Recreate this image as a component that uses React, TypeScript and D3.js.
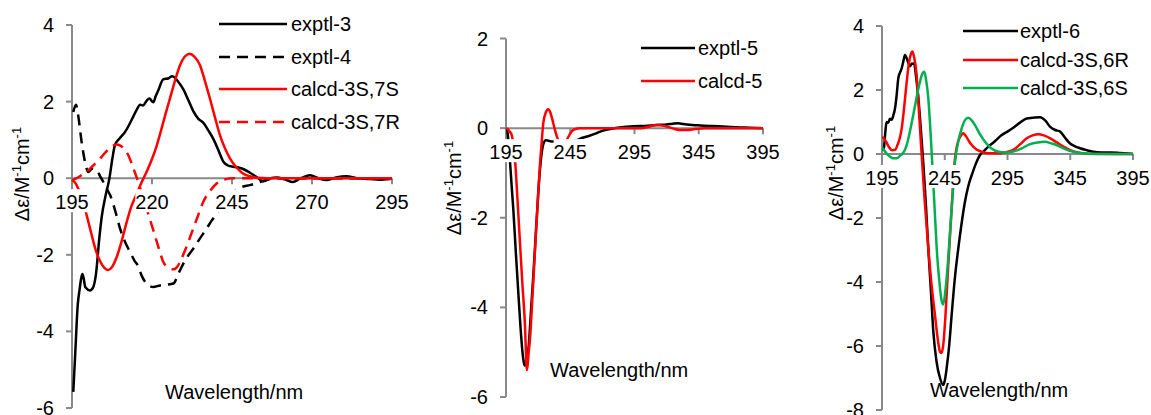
import React from "react";
import * as d3 from "d3";

// ---- data (wavelength nm, delta epsilon) ----
const exptl3 = [
  [195.4, -5.58], [196, -4.6], [196.8, -3.3], [197.3, -2.95], [198.3, -2.5], [199.2, -2.85],
  [200.6, -2.93], [201.6, -2.85], [202.5, -2.5], [203.5, -1.6], [204.3, -1.0], [205.5, -0.45],
  [206.7, 0], [207.6, 0.5], [208.4, 0.86], [210, 1.05], [211.6, 1.21], [213.5, 1.5], [215, 1.75],
  [216.3, 1.92], [217.2, 1.9], [218.3, 2.02], [219.2, 2.08], [220.4, 1.98], [221.2, 2.15],
  [222, 2.3], [223.5, 2.58], [225.2, 2.61], [226.3, 2.66], [227.2, 2.62], [228.2, 2.52],
  [229.8, 2.32], [231.3, 2.05], [232.9, 1.75], [234.5, 1.55], [236, 1.45], [237.6, 1.25],
  [239.2, 1.02], [240.8, 0.72], [242.3, 0.43], [243.8, 0.33], [245.4, 0.3], [247, 0.28],
  [248.5, 0.24], [250.5, 0.15], [252.7, 0.03], [254.8, -0.08], [257, 0], [259, 0.02],
  [261.5, -0.03], [264, -0.1], [266.5, 0], [269.4, 0.08], [272, 0], [274.6, -0.05],
  [277.5, 0.02], [280.8, 0.05], [284, 0], [288, -0.02], [291, -0.04], [294.5, -0.02],
];
const exptl4 = [
  [195.4, 1.73], [196.25, 1.92], [197, 1.6], [198, 0.95], [199, 0.45], [200.1, 0.16],
  [201.3, 0.25], [202.7, 0.21], [203.8, 0.05], [204.8, -0.1], [206, -0.3], [206.9, -0.44],
  [208.5, -0.85], [210, -1.31], [211.5, -1.65], [213.1, -1.92], [214.5, -2.15], [215.7, -2.3],
  [216.8, -2.55], [217.8, -2.7], [219, -2.8], [220.4, -2.84], [222.5, -2.8], [224.5, -2.78],
  [226.7, -2.75], [228.2, -2.5], [229.8, -2.23], [231.3, -2.02], [232.9, -1.84], [235, -1.57],
  [237.1, -1.31], [238.7, -1.1], [240.2, -0.92], [242.3, -0.65], [244.4, -0.44], [246.2, -0.3],
  [248, -0.23], [250.6, -0.18], [253.8, -0.1], [256, -0.04], [258, 0], [295, 0],
];
const calcd3S7S = [
  [195, -0.05], [196, -0.12], [197, -0.28], [198, -0.5], [199, -0.78], [200, -1.1],
  [201.2, -1.5], [202.5, -1.9], [204, -2.2], [205.2, -2.35], [206.3, -2.4], [207.5, -2.32],
  [209, -2.05], [210.5, -1.65], [212.1, -1.14], [213.5, -0.75], [215, -0.45], [216.8, -0.1],
  [218.5, 0.2], [220, 0.5], [221.5, 0.86], [223, 1.3], [224.3, 1.7], [225.6, 2.08],
  [227.2, 2.55], [228.75, 2.95], [230.2, 3.17], [231.7, 3.25], [233.3, 3.17], [235, 2.95],
  [236.5, 2.55], [238.1, 2.08], [239.7, 1.58], [241.25, 1.12], [242.8, 0.78], [244.4, 0.51],
  [246.4, 0.28], [248.5, 0.12], [250.5, 0.05], [253, 0.01], [256, 0], [295, 0],
];
const calcd3S7R = [
  [195, -0.05], [196.5, 0], [198, 0.08], [199.6, 0.17], [201.5, 0.32], [203.75, 0.51],
  [205.5, 0.68], [207.3, 0.82], [209, 0.88], [210.5, 0.83], [211.7, 0.72], [212.6, 0.6],
  [214, 0.3], [215.7, -0.1], [217, -0.45], [218.3, -0.79], [219.6, -1.14], [220.9, -1.49],
  [222.2, -1.85], [223.5, -2.18], [225, -2.33], [226.7, -2.38], [228, -2.3], [228.75, -2.18],
  [230.5, -1.85], [232.9, -1.31], [234.5, -0.95], [236, -0.62], [238, -0.35], [240.2, -0.14],
  [242.5, -0.04], [245, 0], [295, 0],
];

const exptl5 = [
  [195.8, 0], [196.8, -0.26], [198, -0.7], [199.3, -1.25], [200.7, -1.82], [202.6, -2.75],
  [204.6, -3.68], [206.3, -4.45], [208, -5.05], [209.2, -5.27], [209.8, -5.3], [210.8, -5.2],
  [212.4, -4.95], [214.3, -4.15], [216.2, -3.31], [218.2, -2.35], [220.1, -1.45], [222, -0.75],
  [224, -0.36], [226, -0.27], [228, -0.28], [231, -0.3], [235, -0.3], [240, -0.3], [245, -0.3],
  [250, -0.27], [253.9, -0.22], [260, -0.17], [265.6, -0.11], [270, -0.06], [276, -0.02],
  [285, 0.02], [294, 0.04], [303, 0.05], [312, 0.07], [320, 0.08], [325, 0.1], [329, 0.11],
  [333, 0.09], [340, 0.07], [346, 0.06], [353, 0.05], [360, 0.04], [367, 0.03], [374, 0.02],
  [385, 0.01], [395, 0],
];
const calcd5 = [
  [195, 0], [196.5, -0.03], [198, -0.08], [199.4, -0.15], [200.7, -0.35], [202, -0.7],
  [204, -1.62], [205.9, -2.57], [207.8, -3.5], [209.8, -4.43], [210.5, -5.0], [211.1, -5.4],
  [211.8, -5.3], [212.5, -5.05], [213.7, -4.7], [215.6, -3.75], [217.6, -2.72], [219.5, -1.75],
  [221.5, -0.78], [222.8, -0.3], [224, 0.11], [226, 0.35], [227.9, 0.42], [229.5, 0.35],
  [231, 0.2], [233.1, -0.04], [235.7, -0.26], [239, -0.32], [242.2, -0.26], [245, -0.12],
  [247.4, -0.04], [252, 0], [300, 0], [306, 0.03], [312, 0.07], [318, 0.05], [324, 0],
  [330, -0.04], [336, -0.04], [342, -0.02], [350, 0], [395, 0],
];

const exptl6 = [
  [196.2, 0.1], [196.8, 0.28], [197.8, 0.75], [198.7, 1.0], [200, 0.98], [201.3, 1.1],
  [202.7, 1.07], [204, 1.2], [205.4, 1.43], [206.7, 1.85], [208, 2.37], [209.4, 2.55],
  [210.7, 2.68], [212, 2.9], [213.3, 3.09], [214.6, 3.0], [216, 2.85], [217.3, 2.74],
  [218.7, 2.82], [220.5, 2.83], [222.2, 2.4], [224, 1.74], [226, 0.75], [228, -0.34],
  [230, -1.6], [231.9, -2.95], [234, -4.3], [235.9, -5.55], [238.5, -6.5], [241.2, -7.0],
  [243.8, -7.22], [245.2, -7.05], [246.5, -6.7], [248.5, -6.0], [250.5, -5.03], [253, -3.9],
  [255.8, -2.95], [258.5, -2.15], [261.1, -1.49], [263.8, -1.0], [266.5, -0.66], [269.8, -0.3],
  [273.1, -0.03], [276.4, 0.1], [279.7, 0.23], [285, 0.4], [290.4, 0.59], [295, 0.7],
  [299.6, 0.82], [305, 0.98], [310.3, 1.11], [315, 1.13], [321, 1.15], [325, 1.05],
  [329, 0.85], [333, 0.75], [337, 0.7], [341, 0.5], [344.8, 0.33], [348.8, 0.24],
  [352.8, 0.18], [358, 0.12], [363.4, 0.07], [370, 0.05], [377, 0.05], [385, 0.03], [395, 0],
];
const calcd3S6R = [
  [195.3, 0.54], [198, 0.4], [200.5, 0.22], [203, 0.12], [205.4, 0.13], [207.5, 0.3],
  [209.2, 0.5], [210.7, 0.8], [212.5, 1.4], [214.7, 2.26], [216.5, 2.85], [218, 3.12],
  [219.2, 3.2], [220.5, 3.05], [222.6, 2.47], [224.5, 1.3], [226.6, -0.03], [229, -1.45],
  [231.9, -2.95], [234.5, -4.1], [237.2, -5.03], [239.5, -5.8], [241.2, -6.18], [242.3, -6.22],
  [243.8, -5.97], [245.5, -5.1], [247.8, -3.47], [250.5, -1.7], [253.2, -0.13], [255, 0.3],
  [257.5, 0.55], [259.8, 0.65], [262, 0.55], [264.3, 0.4], [266.5, 0.28], [270, 0.15],
  [274.4, 0.07], [280, 0.02], [289, 0.02], [295, 0.07], [299.6, 0.13], [305, 0.3],
  [310.3, 0.49], [315, 0.58], [319.5, 0.62], [324, 0.58], [329, 0.49], [334, 0.37],
  [339.6, 0.23], [345, 0.12], [351, 0.05], [360, 0.01], [395, 0],
];
const calcd3S6S = [
  [195.3, 0.2], [197, 0.1], [199, 0], [201, -0.07], [203.5, -0.13], [206.7, -0.13],
  [209.5, -0.05], [211.5, 0.02], [213.3, 0.13], [215.5, 0.4], [217.5, 0.75], [219.9, 1.22],
  [222, 1.65], [224, 2.05], [225.3, 2.26], [227, 2.5], [228.7, 2.57], [230.2, 2.3],
  [231.9, 1.74], [233.5, 0.8], [235.1, -0.34], [236.8, -1.6], [238.6, -2.95], [240.5, -3.9],
  [242.6, -4.6], [243.8, -4.7], [245.7, -4.2], [247.5, -3.4], [249.2, -2.43], [251.2, -1.3],
  [253.2, -0.24], [255.8, 0.4], [258.5, 0.8], [261, 1.05], [263.8, 1.13], [266.5, 1.05],
  [269.1, 0.9], [273, 0.62], [277.1, 0.38], [282, 0.18], [287.7, 0.07], [294, 0.05],
  [299.6, 0.08], [306, 0.17], [313, 0.31], [319, 0.36], [325, 0.38], [330, 0.33], [334, 0.28],
  [340, 0.17], [347.5, 0.07], [355, 0.02], [365, 0], [395, 0],
];

const xTicks1 = [195, 220, 245, 270, 295];
const yTicks1 = [-6, -4, -2, 0, 2, 4];
const xTicks2 = [195, 245, 295, 345, 395];
const yTicks2 = [-6, -4, -2, 0, 2];
const xTicks3 = [195, 245, 295, 345, 395];
const yTicks3 = [-8, -6, -4, -2, 0, 2, 4];

const RED = "#ff0000";
const GREEN = "#00b050";
const AXIS = "#898989";
const FONT = "'Liberation Sans', Arial, sans-serif";

const panels = [
  {
    xDomain: [195, 295], xRange: [72, 392], yDomain: [-6, 4], yRange: [408, 25],
    xTicks: xTicks1, yTicks: yTicks1,
    series: [
      { name: "exptl-3", data: exptl3, color: "#000", dash: null },
      { name: "exptl-4", data: exptl4, color: "#000", dash: "11 7" },
      { name: "calcd-3S,7S", data: calcd3S7S, color: RED, dash: null },
      { name: "calcd-3S,7R", data: calcd3S7R, color: RED, dash: "11 7" },
    ],
    legend: { x1: 219, x2: 287, tx: 291, rows: [24, 57, 89, 122] },
    yTitle: { x: 29, y: 174 },
    xTitle: { x: 165, y: 399 },
  },
  {
    xDomain: [195, 395], xRange: [506, 763], yDomain: [-6, 2], yRange: [397, 38.5],
    xTicks: xTicks2, yTicks: yTicks2,
    series: [
      { name: "exptl-5", data: exptl5, color: "#000", dash: null },
      { name: "calcd-5", data: calcd5, color: RED, dash: null },
    ],
    legend: { x1: 641, x2: 695, tx: 698, rows: [48, 81] },
    yTitle: { x: 461, y: 188 },
    xTitle: { x: 550, y: 377 },
  },
  {
    xDomain: [195, 395], xRange: [882, 1133], yDomain: [-8, 4], yRange: [410, 26],
    xTicks: xTicks3, yTicks: yTicks3,
    series: [
      { name: "exptl-6", data: exptl6, color: "#000", dash: null },
      { name: "calcd-3S,6R", data: calcd3S6R, color: RED, dash: null },
      { name: "calcd-3S,6S", data: calcd3S6S, color: GREEN, dash: null },
    ],
    legend: { x1: 963, x2: 1018, tx: 1020, rows: [31, 60, 88] },
    yTitle: { x: 843, y: 173 },
    xTitle: { x: 930, y: 397 },
  },
];

function Panel({ p }) {
  const x = d3.scaleLinear().domain(p.xDomain).range(p.xRange);
  const y = d3.scaleLinear().domain(p.yDomain).range(p.yRange);
  const line = d3.line()
    .x((d) => x(d[0]))
    .y((d) => y(d[1]))
    .curve(d3.curveMonotoneX);
  const x0 = x(p.xDomain[0]);
  const y0 = y(0);
  const fs = 20;
  const labelW = (s) => s.length * 0.556 * fs;

  return (
    <g>
      {/* axes */}
      <line x1={x0} x2={x0} y1={y(p.yDomain[1])} y2={y(p.yDomain[0])} stroke={AXIS} strokeWidth={2} />
      {p.yTicks.map((t) => (
        <line key={"yt" + t} x1={x0 - 6} x2={x0} y1={y(t)} y2={y(t)} stroke={AXIS} strokeWidth={2} />
      ))}
      <line x1={x0} x2={x(p.xDomain[1])} y1={y0} y2={y0} stroke={AXIS} strokeWidth={2} />
      {p.xTicks.map((t) => (
        <line key={"xt" + t} x1={x(t)} x2={x(t)} y1={y0} y2={y0 + 6} stroke={AXIS} strokeWidth={2} />
      ))}

      {/* series */}
      {p.series.map((s) => (
        <path key={s.name} d={line(s.data)} fill="none" stroke={s.color} strokeWidth={2.5}
          strokeDasharray={s.dash || undefined} strokeLinejoin="round" />
      ))}

      {/* x tick labels sit on opaque boxes, as in the original */}
      {p.xTicks.map((t) => {
        const w = labelW(String(t));
        const by = y0 + 31;
        return (
          <g key={"xl" + t}>
            <rect x={x(t) - w / 2} y={y0 + 11} width={w} height={by - y0 - 8} fill="#fff" />
            <text x={x(t)} y={by} textAnchor="middle" fontSize={fs} fontFamily={FONT}>{t}</text>
          </g>
        );
      })}
      {p.yTicks.map((t) => (
        <text key={"yl" + t} x={x0 - 18} y={y(t) + 7} textAnchor="end" fontSize={fs} fontFamily={FONT}>
          {t}
        </text>
      ))}

      {/* legend */}
      {p.series.map((s, i) => (
        <g key={"lg" + s.name}>
          <line x1={p.legend.x1} x2={p.legend.x2} y1={p.legend.rows[i]} y2={p.legend.rows[i]}
            stroke={s.color} strokeWidth={2.5} strokeDasharray={s.dash || undefined} />
          <text x={p.legend.tx} y={p.legend.rows[i] + 7} fontSize={fs} fontFamily={FONT}>{s.name}</text>
        </g>
      ))}

      {/* titles */}
      <text transform={`translate(${p.yTitle.x},${p.yTitle.y}) rotate(-90)`} textAnchor="middle"
        fontSize={fs} fontFamily={FONT}>
        Δε/M<tspan fontSize={13} dy={-8}>-1</tspan>
        <tspan dy={8}>cm</tspan>
        <tspan fontSize={13} dy={-8}>-1</tspan>
      </text>
      <text x={p.xTitle.x} y={p.xTitle.y} fontSize={fs} fontFamily={FONT}>Wavelength/nm</text>
    </g>
  );
}

export default function App() {
  return (
    <div style={{ position: "absolute", left: 0, top: 0 }}>
      <svg width={1151} height={415} style={{ display: "block", background: "#fff" }}>
        {panels.map((p, i) => (
          <Panel key={i} p={p} />
        ))}
      </svg>
    </div>
  );
}
